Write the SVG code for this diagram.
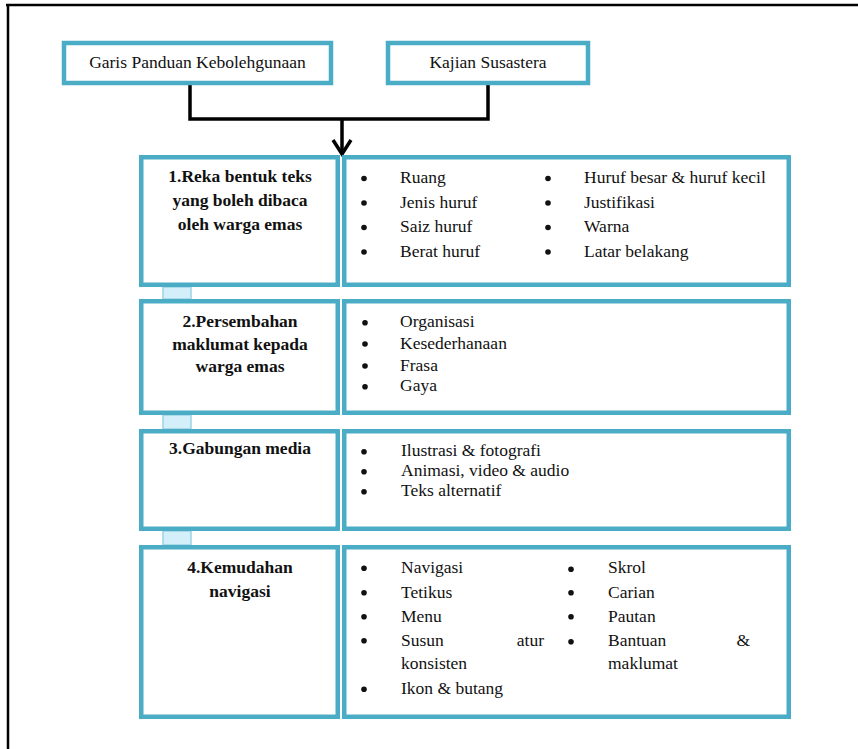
<svg xmlns="http://www.w3.org/2000/svg" width="858" height="749" viewBox="0 0 858 749">
<style>
.box{fill:#fff;stroke:#4BACC6;stroke-width:4.5}
.link{fill:#D3EFFA;stroke:#9CD3E5;stroke-width:1.5}
.t{font-family:'Liberation Serif','DejaVu Serif',serif;font-size:17.5px;fill:#111}
.h{font-family:'Liberation Serif','DejaVu Serif',serif;font-size:17.5px;font-weight:bold;fill:#111;text-anchor:middle}
.c{text-anchor:middle}
.e{text-anchor:end}
.b{fill:#111}
.conn{fill:none;stroke:#000;stroke-width:3.5}
</style>
<rect x="0" y="0" width="858" height="749" fill="#fff"/>
<g id="frame">
<line x1="6" y1="5" x2="858" y2="5" stroke="#000" stroke-width="2.5"/>
<line x1="8" y1="4" x2="8" y2="749" stroke="#000" stroke-width="2.5"/>
</g>
<g id="connectors">
<polyline class="conn" points="190,85 190,119 488,119 488,85"/>
<line class="conn" x1="342" y1="119" x2="342" y2="152"/>
<polyline points="333,140 342,154 351,140" fill="none" stroke="#000" stroke-width="3.5"/>
<rect class="link" x="163" y="287" width="28" height="12"/>
<rect class="link" x="163" y="415" width="28" height="14"/>
<rect class="link" x="163" y="531" width="28" height="14"/>
</g>
<g id="garis">
<rect class="box" x="64" y="43" width="267" height="40"/>
<text class="t c" x="197.5" y="68">Garis Panduan Kebolehgunaan</text>
</g>
<g id="kajian">
<rect class="box" x="388" y="43" width="200" height="40"/>
<text class="t c" x="488" y="68">Kajian Susastera</text>
</g>
<g id="row1-title">
<rect class="box" x="141.25" y="157.25" width="196.5" height="127.5"/>
<text class="h" x="240" y="182">1.Reka bentuk teks</text>
<text class="h" x="240" y="206">yang boleh dibaca</text>
<text class="h" x="240" y="230">oleh warga emas</text>
</g>
<g id="row1-items">
<rect class="box" x="344.25" y="157.25" width="444.5" height="127.5"/>
<circle class="b" cx="364" cy="178.5" r="2.8"/>
<circle class="b" cx="364" cy="203" r="2.8"/>
<circle class="b" cx="364" cy="227.5" r="2.8"/>
<circle class="b" cx="364" cy="252" r="2.8"/>
<text class="t" x="400" y="183">Ruang</text>
<text class="t" x="400" y="207.5">Jenis huruf</text>
<text class="t" x="400" y="232">Saiz huruf</text>
<text class="t" x="400" y="256.5">Berat huruf</text>
<circle class="b" cx="548" cy="178.5" r="2.8"/>
<circle class="b" cx="548" cy="203" r="2.8"/>
<circle class="b" cx="548" cy="227.5" r="2.8"/>
<circle class="b" cx="548" cy="252" r="2.8"/>
<text class="t" x="584" y="183">Huruf besar &amp; huruf kecil</text>
<text class="t" x="584" y="207.5">Justifikasi</text>
<text class="t" x="584" y="232">Warna</text>
<text class="t" x="584" y="256.5">Latar belakang</text>
</g>
<g id="row2-title">
<rect class="box" x="141.25" y="301.25" width="196.5" height="111.5"/>
<text class="h" x="240" y="327">2.Persembahan</text>
<text class="h" x="240" y="349.5">maklumat kepada</text>
<text class="h" x="240" y="372">warga emas</text>
</g>
<g id="row2-items">
<rect class="box" x="344.25" y="301.25" width="444.5" height="111.5"/>
<circle class="b" cx="365" cy="322.7" r="2.8"/>
<circle class="b" cx="365" cy="344" r="2.8"/>
<circle class="b" cx="365" cy="366" r="2.8"/>
<circle class="b" cx="365" cy="386.7" r="2.8"/>
<text class="t" x="400" y="327">Organisasi</text>
<text class="t" x="400" y="348.5">Kesederhanaan</text>
<text class="t" x="400" y="370.5">Frasa</text>
<text class="t" x="400" y="391">Gaya</text>
</g>
<g id="row3-title">
<rect class="box" x="141.25" y="431.25" width="196.5" height="97.5"/>
<text class="h" x="240" y="454">3.Gabungan media</text>
</g>
<g id="row3-items">
<rect class="box" x="344.25" y="431.25" width="444.5" height="97.5"/>
<circle class="b" cx="364" cy="451.7" r="2.8"/>
<circle class="b" cx="364" cy="471.7" r="2.8"/>
<circle class="b" cx="364" cy="491.7" r="2.8"/>
<text class="t" x="401" y="456">Ilustrasi &amp; fotografi</text>
<text class="t" x="401" y="476">Animasi, video &amp; audio</text>
<text class="t" x="401" y="496">Teks alternatif</text>
</g>
<g id="row4-title">
<rect class="box" x="141.25" y="547.25" width="196.5" height="169.5"/>
<text class="h" x="240" y="573">4.Kemudahan</text>
<text class="h" x="240" y="596.5">navigasi</text>
</g>
<g id="row4-items">
<rect class="box" x="344.25" y="547.25" width="444.5" height="169.5"/>
<circle class="b" cx="364" cy="568.3" r="2.8"/>
<circle class="b" cx="364" cy="592.7" r="2.8"/>
<circle class="b" cx="364" cy="616.7" r="2.8"/>
<circle class="b" cx="364" cy="640.7" r="2.8"/>
<circle class="b" cx="364" cy="689.3" r="2.8"/>
<text class="t" x="401" y="573">Navigasi</text>
<text class="t" x="401" y="597.5">Tetikus</text>
<text class="t" x="401" y="621.5">Menu</text>
<text class="t" x="401" y="645.5">Susun</text>
<text class="t e" x="544" y="645.5">atur</text>
<text class="t" x="401" y="668.5">konsisten</text>
<text class="t" x="401" y="694">Ikon &amp; butang</text>
<circle class="b" cx="571" cy="569.3" r="2.8"/>
<circle class="b" cx="571" cy="592.7" r="2.8"/>
<circle class="b" cx="571" cy="616.7" r="2.8"/>
<circle class="b" cx="571" cy="641.7" r="2.8"/>
<text class="t" x="608" y="573">Skrol</text>
<text class="t" x="608" y="597.5">Carian</text>
<text class="t" x="608" y="621.5">Pautan</text>
<text class="t" x="608" y="645.5">Bantuan</text>
<text class="t e" x="750" y="645.5">&amp;</text>
<text class="t" x="608" y="668.5">maklumat</text>
</g>
</svg>
